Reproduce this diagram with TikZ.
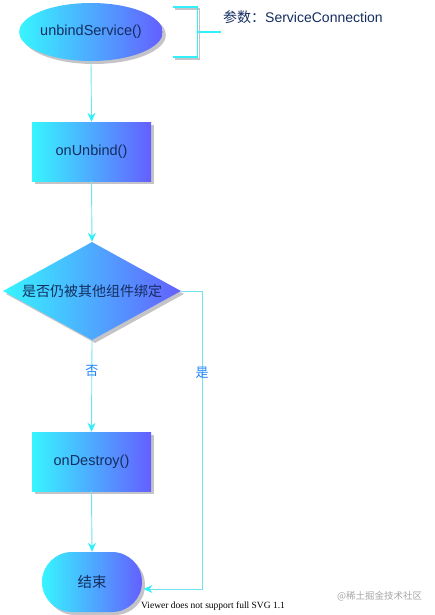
\documentclass[tikz,border=0pt]{standalone}
\usepackage{fontspec}
\setmainfont{Liberation Sans}
\newfontfamily\cjk{Noto Sans CJK SC}
\newfontfamily\viewerfont{Liberation Serif}
\usetikzlibrary{shapes.geometric,shapes.misc,shadows,arrows.meta}
\definecolor{gradL}{RGB}{55,245,255}
\definecolor{gradR}{RGB}{100,95,255}
\definecolor{txt}{RGB}{20,45,95}
\definecolor{lineC}{RGB}{110,228,238}
\definecolor{arrC}{RGB}{50,240,250}
\definecolor{lblC}{RGB}{30,130,255}
\definecolor{shad}{RGB}{195,195,200}
\tikzset{
  flowbox/.style={draw=none, shading=axis, left color=gradL, right color=gradR, shading angle=90,
    text=txt, font=\fontsize{14.5}{16}\selectfont, inner sep=0pt,
    drop shadow={shadow xshift=3pt, shadow yshift=-3pt, fill=shad, opacity=1}},
  conn/.style={draw=lineC, line width=0.9pt, -{Stealth[length=9pt,width=8pt,inset=3pt,color=arrC]}},
  lbl/.style={text=lblC, font=\cjk\fontsize{13}{15}\selectfont},
}
\begin{document}
\begin{tikzpicture}[x=1pt,y=-1pt]
\useasboundingbox (0,0) rectangle (434,615);
\node[flowbox, ellipse, minimum width=108pt, minimum height=58pt] (start) at (91,32) {unbindService()};
\node[flowbox, rectangle, minimum width=119pt, minimum height=59pt] (unbind) at (91.5,151.5) {onUnbind()};
\node[flowbox, diamond, aspect=1.8, minimum width=178pt, minimum height=98pt] (dec) at (92,291) {\cjk\fontsize{14}{16}\selectfont 是否仍被其他组件绑定};
\node[flowbox, rectangle, minimum width=119pt, minimum height=59pt] (destroy) at (91.5,461.5) {onDestroy()};
\node[flowbox, rounded rectangle, minimum width=100pt, minimum height=60pt] (end) at (92,582) {\cjk 结束};

% annotation bracket
\coordinate (bt) at (173,7);
\coordinate (bb) at (173,57);
\coordinate (bm) at (221,32);
\draw[draw=shad, line width=1.2pt] (175,9) -- (199.5,9) -- (199.5,59) -- (175,59);
\draw[draw=arrC, line width=1.2pt] (bt) -- (197.5,7) -- (197.5,57) -- (bb);
\draw[draw=arrC, line width=1.2pt] (197.5,32) -- (bm);
\node[anchor=west, text=txt, inner sep=0pt, font=\fontsize{14}{16}\selectfont] (param) at (223,17) {{\cjk 参数：}ServiceConnection};

% connectors
\draw[conn] (start.south) -- (unbind.north);
\draw[conn] (unbind.south) -- (dec.north);
\draw[conn] (dec.south) -- node[lbl, pos=0.34] (no) {否} (destroy.north);
\draw[conn] (destroy.south) -- (end.north);
\coordinate (c1) at (202,291);
\coordinate (c2) at (202,589);
\coordinate (c3) at (143.5,589);
\draw[conn] (dec.east) -- (c1) -- node[lbl, pos=0.275] (yes) {是} (c2) -- (c3);

\node[anchor=west, inner sep=0pt, font=\viewerfont\fontsize{9.5}{11}\selectfont] (viewer) at (141,606) {Viewer does not support full SVG 1.1};
\node[anchor=west, inner sep=0pt, text=black!35, font=\cjk\fontsize{9.5}{11}\selectfont] (wm) at (337,596) {@稀土掘金技术社区};
\end{tikzpicture}
\end{document}
